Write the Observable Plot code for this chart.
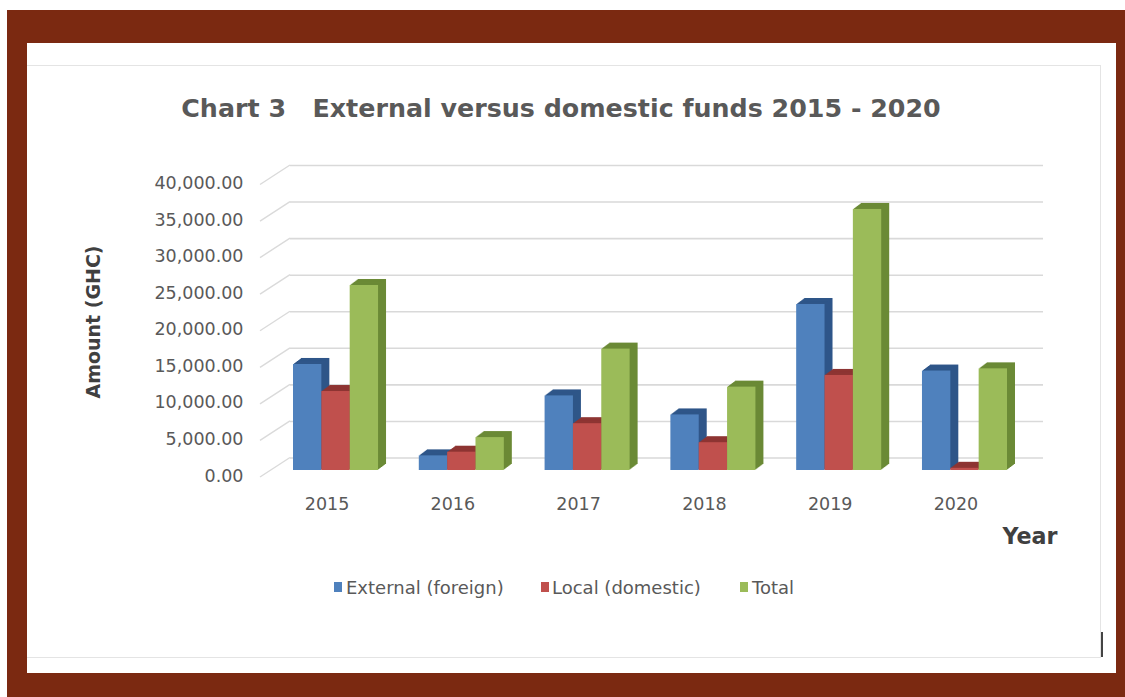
<!DOCTYPE html>
<html>
<head>
<meta charset="utf-8">
<script src="https://cdn.jsdelivr.net/npm/d3@7"></script>
<script src="https://cdn.jsdelivr.net/npm/@observablehq/plot@0.6"></script>
<style>
  html, body { margin: 0; padding: 0; background: #fff; width: 1125px; height: 697px; overflow: hidden; font-family: "DejaVu Sans", sans-serif; }
  #frame { position: absolute; left: 7px; top: 10px; width: 1118px; height: 687px; background: #7b2911; }
  #inner { position: absolute; left: 27px; top: 43px; width: 1089px; height: 630px; background: #fff; }
  #area { position: absolute; left: 27px; top: 65px; width: 1073px; height: 591px; border-top: 1px solid #e4e4e4; border-right: 1px solid #e4e4e4; border-bottom: 1px solid #e4e4e4; }
  .lbl { position: absolute; white-space: nowrap; transform: translate(-50%, -50%); }
  #title { font-weight: bold; color: #595959; font-size: 24px; }
  #ytitle { font-weight: bold; color: #404040; font-size: 19px; transform: translate(-50%, -50%) rotate(-90deg); }
  #xtitle { font-weight: bold; color: #404040; font-size: 21px; }
  .plot { position: absolute; left: 0; top: 140px; }
  .leg { position: absolute; white-space: nowrap; color: #595959; font-size: 18px; transform: translateY(-50%); }
  .sw { position: absolute; width: 8px; height: 10px; transform: translateY(-50%); }
  #cursor { position: absolute; left: 1101px; top: 632px; width: 2px; height: 25px; background: #444; }
</style>
</head>
<body>
<div id="frame"></div>
<div id="inner"></div>
<div id="area"></div>
<div id="cursor"></div>
<span id="title" class="lbl" style="left:561px;top:108px">Chart 3&nbsp;&nbsp;&nbsp;External versus domestic funds 2015 - 2020</span>
<span id="ytitle" class="lbl" style="left:93px;top:322px">Amount (GHC)</span>
<span id="xtitle" class="lbl" style="left:1030px;top:536px">Year</span>
<div id="legend"></div>
<div id="bg" class="plot"></div>
<div id="fg" class="plot"></div>
<script>
// ---- data ----
const years = ["2015", "2016", "2017", "2018", "2019", "2020"];
const seriesNames = ["External (foreign)", "Local (domestic)", "Total"];
const externalValues = [14500, 2000, 10200, 7600, 22700, 13600];
const localValues = [10800, 2500, 6400, 3800, 13000, 300];
const totalValues = [25300, 4500, 16600, 11400, 35700, 13900];
const yTicks = [0, 5000, 10000, 15000, 20000, 25000, 30000, 35000, 40000];

// ---- styles ----
const frontColors = ["#4f81bd", "#c0504d", "#9bbb59"];
const sideColors = ["#2f5689", "#8e3533", "#6b8a36"];
const DEPTH = 8;

const seriesValues = [externalValues, localValues, totalValues];
const rows = years.flatMap((year, i) =>
  seriesNames.map((series, s) => ({year, series, value: seriesValues[s][i]})));

const fmt = d3.format(",.2f");
const W = 1125, H = 400, MT = 37.5, MB = 70;

// background: back-wall gridlines and y tick labels
const bg = Plot.plot({
  width: W, height: H,
  marginTop: MT, marginBottom: MB, marginLeft: 268, marginRight: 104,
  style: {background: "transparent", fontFamily: "DejaVu Sans, sans-serif"},
  y: {domain: [0, 40000], axis: null},
  marks: [
    Plot.ruleY(yTicks, {y: d => d, dx: 22, dy: -12.5, stroke: "#d9d9d9", strokeWidth: 1.6}),
    Plot.text(yTicks, {y: d => d, text: d => fmt(d), frameAnchor: "left", textAnchor: "end",
      dx: -25, dy: 5.5, fill: "#595959", fontSize: 17.5})
  ]
});
const ys = bg.scale("y");
const sel = d3.select(bg);
yTicks.forEach(t => {
  const yy = ys.apply(t);
  sel.append("line").attr("x1", 260).attr("y1", yy + 7).attr("x2", 290).attr("y2", yy - 12.5)
    .attr("stroke", "#dadada").attr("stroke-width", 1.4);
});
document.getElementById("bg").appendChild(bg);

// foreground: 3-D style clustered bars
const marks = [];
seriesNames.forEach((s, si) => {
  const d = rows.filter(r => r.series === s);
  for (let k = DEPTH; k >= 1; k--) {
    marks.push(Plot.barY(d, {fx: "year", x: "series", y1: 0, y2: "value",
      fill: sideColors[si], dx: k, dy: -k * 0.75}));
  }
});
seriesNames.forEach((s, si) => {
  marks.push(Plot.barY(rows.filter(r => r.series === s),
    {fx: "year", x: "series", y1: 0, y2: "value", fill: frontColors[si]}));
});
marks.push(Plot.text(years, {fx: d => d, text: d => d, frameAnchor: "bottom",
  dy: 39, dx: -9, fill: "#595959", fontSize: 17.5}));

const fg = Plot.plot({
  width: W, height: H,
  marginTop: MT, marginBottom: MB, marginLeft: 293, marginRight: 118,
  style: {background: "transparent", fontFamily: "DejaVu Sans, sans-serif"},
  fx: {domain: years, paddingInner: 0.324, paddingOuter: 0, axis: null, label: null, round: false},
  x: {domain: seriesNames, padding: 0, axis: null, round: false},
  y: {domain: [0, 40000], axis: null},
  marks
});
document.getElementById("fg").appendChild(fg);

// legend
const legend = document.getElementById("legend");
const legPos = [[334, 346], [541, 552], [740, 752]];
seriesNames.forEach((s, i) => {
  const sw = document.createElement("div");
  sw.className = "sw";
  sw.style.left = legPos[i][0] + "px";
  sw.style.top = "587px";
  sw.style.background = frontColors[i];
  legend.appendChild(sw);
  const t = document.createElement("span");
  t.className = "leg";
  t.textContent = s;
  t.style.left = legPos[i][1] + "px";
  t.style.top = "587px";
  legend.appendChild(t);
});

function fit(el, target) {
  const w = el.offsetWidth;
  const fs = parseFloat(getComputedStyle(el).fontSize);
  if (w > 0) el.style.fontSize = (fs * target / w) + "px";
}
fit(document.getElementById("title"), 760);
fit(document.getElementById("ytitle"), 153);
fit(document.getElementById("xtitle"), 55);
</script>
</body>
</html>
